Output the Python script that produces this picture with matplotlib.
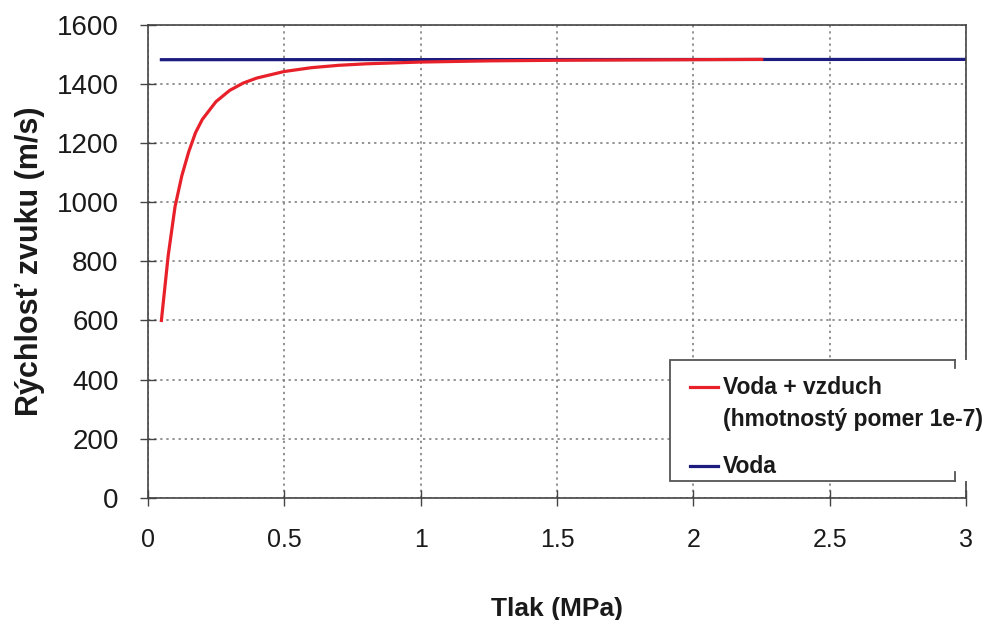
import matplotlib
matplotlib.use("Agg")
import matplotlib.pyplot as plt
from matplotlib.lines import Line2D
from matplotlib.patches import Rectangle

plt.rcParams['font.family'] = ['Liberation Sans', 'DejaVu Sans']

# Sound speed in water with dissolved air (mass ratio 1e-7) vs. pressure
pressure_mix = [0.05, 0.075, 0.1, 0.125, 0.15, 0.175, 0.2, 0.25, 0.3, 0.35, 0.4,
                0.5, 0.6, 0.7, 0.8, 1.0, 1.25, 1.5, 1.75, 2.0, 2.25]
speed_mix = [600, 820, 985, 1090, 1170, 1235, 1280, 1340, 1378, 1403, 1420,
             1442, 1455, 1463, 1468, 1474, 1478, 1480, 1481, 1482, 1483]

# Pure water
pressure_water = [0.05, 3.0]
speed_water = [1482, 1483]

x_ticks = [0, 0.5, 1, 1.5, 2, 2.5, 3]
x_tick_labels = ['0', '0.5', '1', '1.5', '2', '2.5', '3']
y_ticks = [0, 200, 400, 600, 800, 1000, 1200, 1400, 1600]

label_mix_1 = 'Voda + vzduch'
label_mix_2 = '(hmotnostý pomer 1e-7)'
label_water = 'Voda'

red = '#e8202a'
navy = '#1c1c80'
ink = '#1a1a1a'
frame_col = '#555555'

fig = plt.figure(figsize=(9.85, 6.2), dpi=100)
ax = fig.add_axes([0.150, 0.197, 0.831, 0.763])

ax.plot(pressure_mix, speed_mix, color=red, lw=2.3, zorder=3)
ax.plot(pressure_water, speed_water, color=navy, lw=2.3, zorder=2)

ax.set_xlim(0, 3)
ax.set_ylim(0, 1600)
ax.set_xticks(x_ticks)
ax.set_xticklabels(x_tick_labels)
ax.set_yticks(y_ticks)
ax.tick_params(axis='both', colors='#444444', labelcolor=ink,
               length=12, direction='inout', width=1)
ax.tick_params(axis='x', labelsize=18, pad=16)
ax.tick_params(axis='y', labelsize=20, pad=15)

ax.grid(True, color='#777777', linestyle=(0, (1.5, 2.5)), lw=1.1)
for side in ['left', 'bottom', 'top', 'right']:
    ax.spines[side].set_color('#444444')
    ax.spines[side].set_linewidth(1.2)

ax.set_xlabel('Tlak (MPa)', fontsize=19, fontweight='bold', color=ink, labelpad=32)
ax.set_ylabel('Rýchlosť zvuku (m/s)', fontsize=22, fontweight='bold', color=ink,
              labelpad=8)

# Legend panel: white background (the long label runs past the frame's right edge)
bx0, by0, bx1, by1 = 0.638, 0.036, 0.9866, 0.2918
ax.add_patch(Rectangle((bx0, by0), 1.0205 - bx0, by1 - by0, transform=ax.transAxes,
                       facecolor='white', edgecolor='none', zorder=5, clip_on=False))
stub = 0.018
for xs, ys in [([bx1, bx0, bx0, bx1], [by1, by1, by0, by0]),
               ([bx1, bx1], [by1, by1 - stub]),
               ([bx1, bx1], [by0, by0 + stub])]:
    ax.add_line(Line2D(xs, ys, transform=ax.transAxes, color=frame_col, lw=1.3,
                       zorder=5.5, clip_on=False, solid_joinstyle='miter'))

legend_style = dict(loc='upper left', frameon=False,
                    prop={'weight': 'bold', 'size': 16.5},
                    handlelength=1.2, handleheight=0.3, handletextpad=0.25,
                    labelspacing=0.38, borderpad=0, borderaxespad=0)

# Mixture entry: handle beside the first line, second line underneath
mix_handles = [Line2D([], [], color=red, lw=2.3), Line2D([], [], color='none')]
leg_mix = ax.legend(mix_handles, [label_mix_1, label_mix_2],
                    bbox_to_anchor=(0.6626, 0.258), **legend_style)
leg_mix.set_zorder(6)
ax.add_artist(leg_mix)

# Water entry
leg_water = ax.legend([Line2D([], [], color=navy, lw=2.3)], [label_water],
                      bbox_to_anchor=(0.6626, 0.0905), **legend_style)
leg_water.set_zorder(6)

for leg in (leg_mix, leg_water):
    for t in leg.get_texts():
        t.set_color(ink)

fig.savefig('out.png', dpi=100, facecolor='white')
